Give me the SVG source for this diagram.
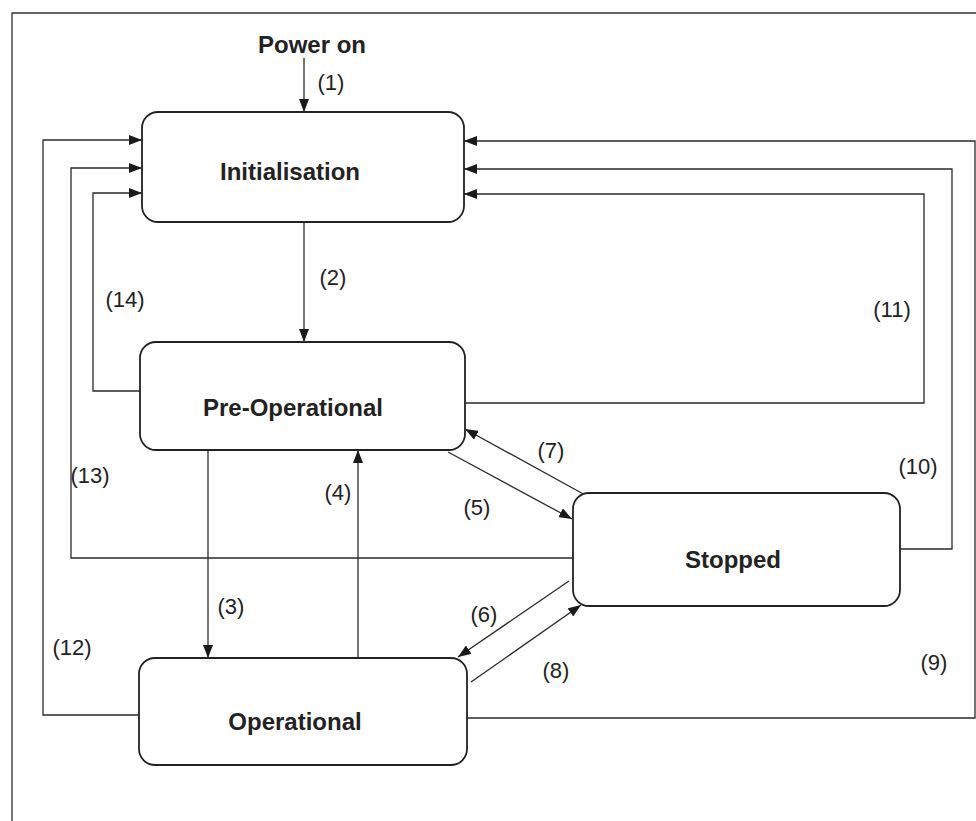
<svg xmlns="http://www.w3.org/2000/svg" width="976" height="821" viewBox="0 0 976 821">
<defs>
<marker id="ah" markerUnits="userSpaceOnUse" markerWidth="14" markerHeight="10" refX="13" refY="5" orient="auto">
<path d="M0,0 L13,5 L0,10 Z" fill="#1a1a1a"/>
</marker>
<style>
.frame{fill:none;stroke:#333;stroke-width:1.3}
.box{fill:#fff;stroke:#222;stroke-width:1.8}
.ln{fill:none;stroke:#2a2a2a;stroke-width:1.3}
.arr{fill:none;stroke:#2a2a2a;stroke-width:1.3;marker-end:url(#ah)}
.nt{font-family:"Liberation Sans",Arial,sans-serif;font-weight:bold;font-size:24px;fill:#222;text-anchor:middle}
.lb{font-family:"Liberation Sans",Arial,sans-serif;font-size:22px;fill:#222;text-anchor:middle}
</style>
</defs>
<rect width="976" height="821" fill="#fff"/>
<path class="frame" d="M12,821 V13 H976"/>
<g id="connectors">
<path class="arr" d="M304,58 V112"/>
<path class="arr" d="M304,222 V342"/>
<path class="arr" d="M208,450 V658"/>
<path class="arr" d="M358,658 V450"/>
<path class="arr" d="M448,452 L572,519"/>
<path class="arr" d="M587,496 L465,429"/>
<path class="arr" d="M569,581 L458,657"/>
<path class="arr" d="M471,682 L581,605"/>
<path class="arr" d="M140,391 H93 V193 H142"/>
<path class="arr" d="M573,558 H71 V168 H142"/>
<path class="arr" d="M139,715 H43 V140 H142"/>
<path class="arr" d="M465,403 H924 V194 H464"/>
<path class="arr" d="M900,549 H952 V169 H464"/>
<path class="arr" d="M467,718 H975 V141 H464"/>
</g>
<g id="labels">
<text class="nt" x="312" y="53">Power on</text>
<text class="lb" x="331" y="90">(1)</text>
<text class="lb" x="333" y="285">(2)</text>
<text class="lb" x="125" y="307">(14)</text>
<text class="lb" x="892" y="317">(11)</text>
<text class="lb" x="551" y="458">(7)</text>
<text class="lb" x="918" y="474">(10)</text>
<text class="lb" x="90" y="483">(13)</text>
<text class="lb" x="338" y="500">(4)</text>
<text class="lb" x="477" y="515">(5)</text>
<text class="lb" x="231" y="614">(3)</text>
<text class="lb" x="484" y="622">(6)</text>
<text class="lb" x="72" y="655">(12)</text>
<text class="lb" x="556" y="678">(8)</text>
<text class="lb" x="934" y="670">(9)</text>
</g>
<g id="initialisation">
<rect class="box" x="142" y="112" width="322" height="110" rx="16"/>
<text class="nt" x="290" y="180">Initialisation</text>
</g>
<g id="pre-operational">
<rect class="box" x="140" y="342" width="325" height="108" rx="16"/>
<text class="nt" x="293" y="416">Pre-Operational</text>
</g>
<g id="stopped">
<rect class="box" x="573" y="493" width="327" height="113" rx="16"/>
<text class="nt" x="733" y="568">Stopped</text>
</g>
<g id="operational">
<rect class="box" x="139" y="658" width="328" height="107" rx="16"/>
<text class="nt" x="295" y="730">Operational</text>
</g>
</svg>
